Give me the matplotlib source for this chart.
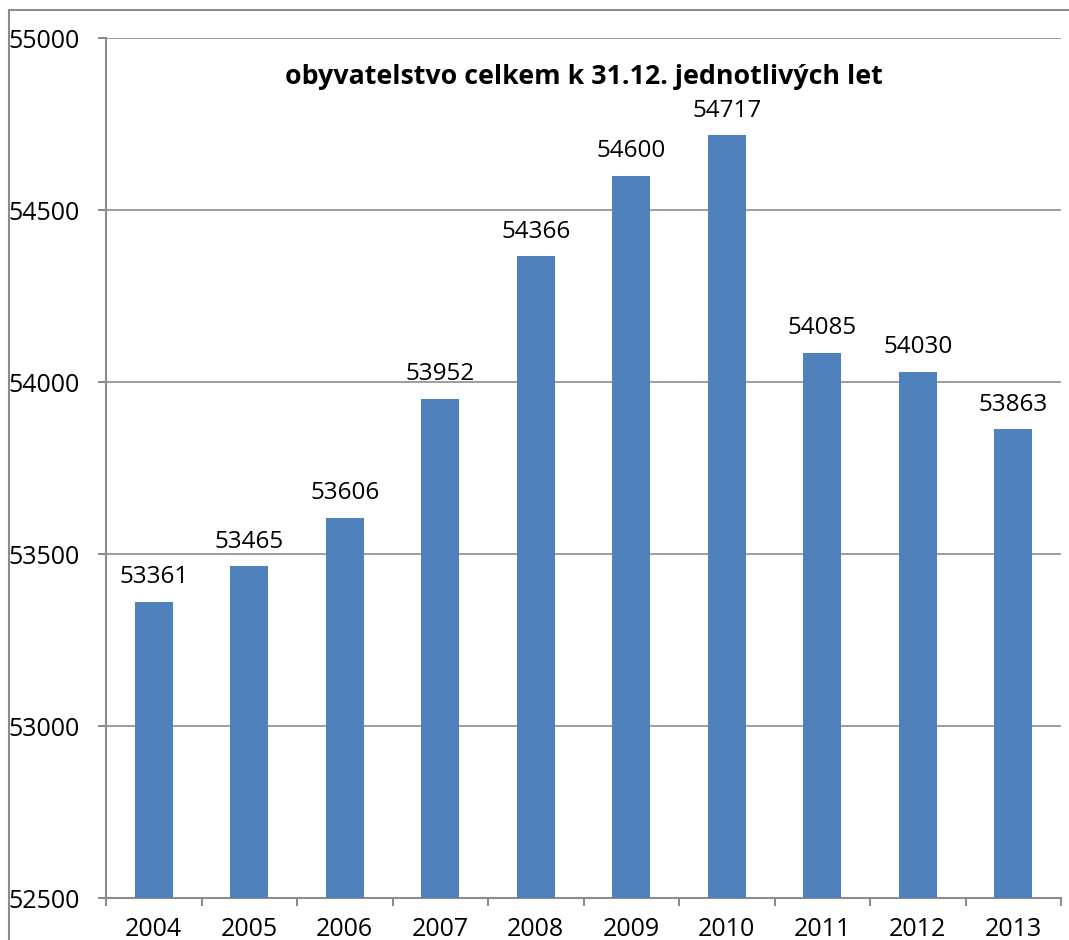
import matplotlib.pyplot as plt
from matplotlib.patches import Rectangle
import numpy as np

# data
years = ["2004", "2005", "2006", "2007", "2008", "2009", "2010", "2011", "2012", "2013"]
population = [53361, 53465, 53606, 53952, 54366, 54600, 54717, 54085, 54030, 53863]
title = "obyvatelstvo celkem k 31.12. jednotlivých let"

plt.rcParams['font.family'] = ['Open Sans', 'DejaVu Sans']

fig = plt.figure(figsize=(10.69, 9.40), dpi=100)
ax = fig.add_axes([106 / 1069, 1 - 898 / 940, (1061 - 106) / 1069, (898 - 38) / 940])

# outer chart frame
fig.patches.append(Rectangle((9 / 1069, -0.1), 1.2, 1 - 10 / 940 + 0.1,
                             transform=fig.transFigure, fill=False,
                             edgecolor='#8c8c8c', linewidth=1.5))

x = np.arange(len(years))
bars = ax.bar(x, population, width=0.4, color='#4f81bd', zorder=3)

for xi, v in zip(x, population):
    ax.annotate(str(v), (xi, v), xytext=(0, 9), textcoords='offset points',
                ha='center', va='bottom', fontsize=17.5)

ax.set_ylim(52500, 55000)
ax.set_yticks(np.arange(52500, 55001, 500))
ax.set_xlim(-0.5, len(years) - 0.5)
ax.set_xticks(x)
ax.set_xticklabels(years)
ax.set_xticks(np.arange(-0.5, len(years), 1), minor=True)

ax.grid(axis='y', color='#8c8c8c', linewidth=1.2, zorder=0)
for s in ['top', 'right']:
    ax.spines[s].set_visible(False)
for s in ['left', 'bottom']:
    ax.spines[s].set_color('#8c8c8c')
    ax.spines[s].set_linewidth(1.5)

ax.tick_params(axis='y', length=6, color='#8c8c8c', width=1.5, pad=13, labelsize=18)
ax.tick_params(axis='x', which='major', length=0, pad=14, labelsize=18)
ax.tick_params(axis='x', which='minor', length=6, color='#8c8c8c', width=1.5)

ax.text(0.5, 0.955, title, transform=ax.transAxes, ha='center', va='center',
        fontsize=19.3, fontweight='bold')

fig.savefig("out.png", dpi=100)
